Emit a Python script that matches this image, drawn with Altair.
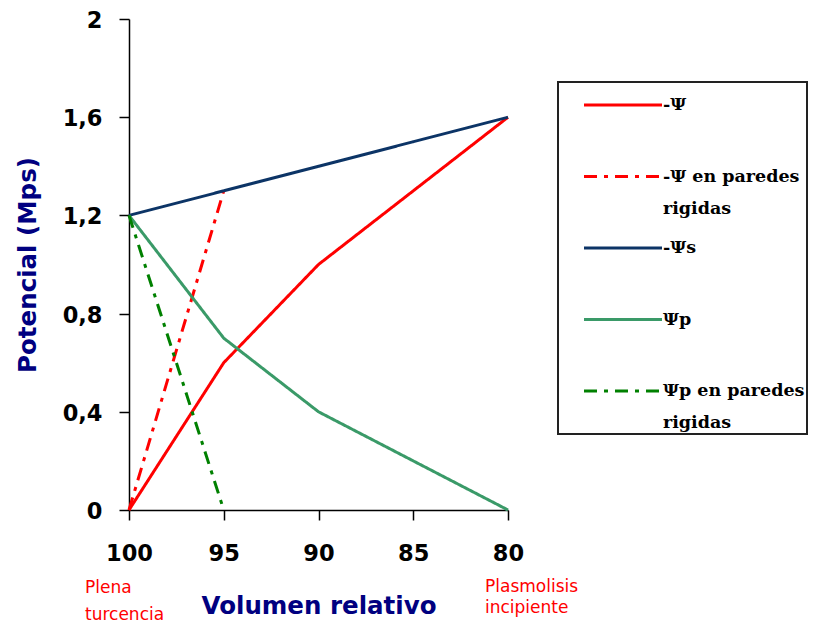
import altair as alt
import pandas as pd

# ---- data ----
series = ["-Ψ", "-Ψ en paredes rigidas", "-Ψs", "Ψp", "Ψp en paredes rigidas"]
colors = ["#ff0000", "#ff0000", "#0c3466", "#3a9a68", "#008000"]
dashes = [[1, 0], [13, 7, 4, 7], [1, 0], [1, 0], [13, 7, 4, 7]]

vol_psi = [100, 95, 90, 85, 80]
psi = [0.0, 0.6, 1.0, 1.3, 1.6]
vol_psi_rig = [100, 95]
psi_rig = [0.0, 1.3]
vol_psis = [100, 95, 90, 85, 80]
psis = [1.2, 1.3, 1.4, 1.5, 1.6]
vol_psip = [100, 95, 90, 85, 80]
psip = [1.2, 0.7, 0.4, 0.2, 0.0]
vol_psip_rig = [100, 95]
psip_rig = [1.2, 0.0]

x_ticks = [100, 95, 90, 85, 80]
y_ticks = [0, 0.4, 0.8, 1.2, 1.6, 2]

note_left = ["Plena", "turcencia"]
note_right = ["Plasmolisis", "incipiente"]

rows = []
for name, xs, ys in [
    (series[0], vol_psi, psi),
    (series[1], vol_psi_rig, psi_rig),
    (series[2], vol_psis, psis),
    (series[3], vol_psip, psip),
    (series[4], vol_psip_rig, psip_rig),
]:
    for xv, yv in zip(xs, ys):
        rows.append({"serie": name, "vol": xv, "pot": yv})
df = pd.DataFrame(rows)

x_scale = alt.Scale(domain=[80, 100], reverse=True, nice=False, zero=False)
y_scale = alt.Scale(domain=[0, 2], nice=False)

label_expr = ("indexof(datum.label, ' en paredes') > 0 ? "
              "[replace(datum.label, ' rigidas', ''), 'rigidas'] : [datum.label, '']")

legend = alt.Legend(
    title=None, orient="none", legendX=429, legendY=63,
    symbolType="M-2,0H2", symbolSize=1521, symbolStrokeWidth=3,
    symbolOffset=42, padding=2, rowPadding=9.5, labelOffset=19,
    labelFont="DejaVu Serif", labelFontWeight="bold", labelFontSize=17.5,
    labelColor="black", labelExpr=label_expr, labelLimit=400,
    strokeColor="#222222", fillColor="white")

axis_common = dict(grid=False, tickSize=10, labelFlush=False,
                   labelFont="DejaVu Sans", labelFontWeight="bold", labelFontSize=22.5,
                   labelColor="black", titleFont="DejaVu Sans", titleFontSize=24.5,
                   titleFontWeight="bold", titleColor="#000080",
                   domainColor="black", tickColor="black", domainWidth=1.5, tickWidth=1.5)

lines = alt.Chart(df).mark_line(strokeWidth=3).encode(
    x=alt.X("vol:Q", scale=x_scale,
            axis=alt.Axis(values=x_ticks, title="Volumen relativo",
                          labelPadding=22, titlePadding=30, **axis_common)),
    y=alt.Y("pot:Q", scale=y_scale,
            axis=alt.Axis(values=y_ticks, title="Potencial (Mps)",
                          labelPadding=17, titlePadding=22, labelOffset=1.5,
                          labelExpr="replace(format(datum.value, '.1~f'), '.', ',')",
                          **axis_common)),
    color=alt.Color("serie:N", sort=series,
                    scale=alt.Scale(domain=series, range=colors), legend=legend),
    strokeDash=alt.StrokeDash("serie:N", sort=series,
                              scale=alt.Scale(domain=series, range=dashes), legend=legend),
)

left_note = alt.Chart(pd.DataFrame({"vol": [x_ticks[0]], "pot": [0], "t": [note_left]})).mark_text(
    align="left", baseline="alphabetic", dx=-44, dy=83, lineHeight=27,
    font="DejaVu Sans", fontSize=17, color="#ff0000"
).encode(x=alt.X("vol:Q", scale=x_scale), y=alt.Y("pot:Q", scale=y_scale), text="t")

right_note = alt.Chart(pd.DataFrame({"vol": [x_ticks[-1]], "pot": [0], "t": [note_right]})).mark_text(
    align="left", baseline="alphabetic", dx=-23, dy=82, lineHeight=21,
    font="DejaVu Sans", fontSize=17, color="#ff0000"
).encode(x=alt.X("vol:Q", scale=x_scale), y=alt.Y("pot:Q", scale=y_scale), text="t")

chart = alt.layer(lines, left_note, right_note).properties(
    width=379, height=491,
    autosize=alt.AutoSizeParams(type="none"),
    padding={"left": 121, "top": 11, "right": 302, "bottom": 113},
).configure(
    background="white",
    style={"guide-label": {"lineHeight": 32}},
    view=alt.ViewConfig(stroke=None),
    legend=alt.LegendConfig(strokeWidth=2),
)

chart.save("out.html", embed_options={"renderer": "svg", "actions": False})
